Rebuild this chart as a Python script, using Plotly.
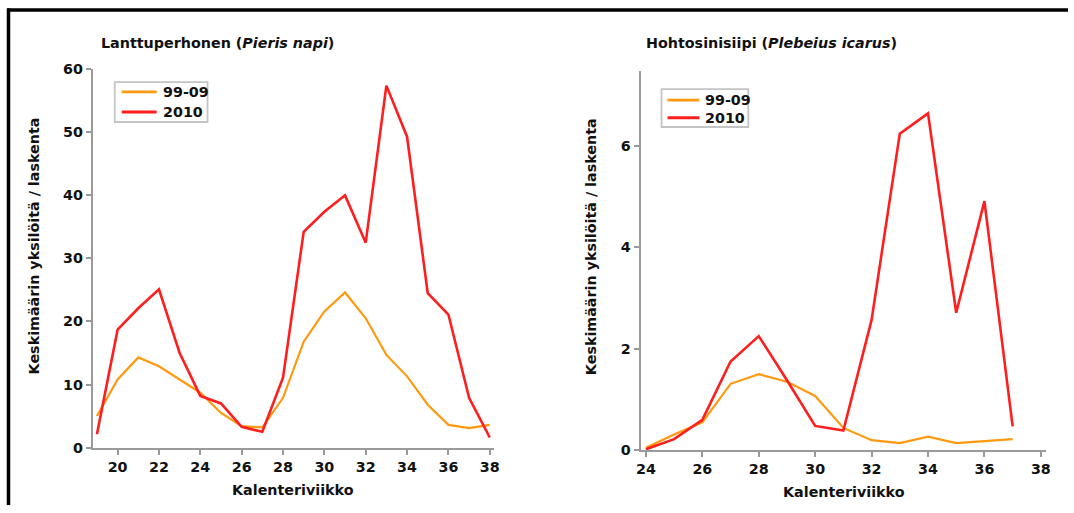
import plotly.graph_objects as go

# ---- data ----
weeks_left = list(range(19, 39))
napi_9909 = [5.0, 10.8, 14.3, 12.9, 10.8, 8.7, 5.5, 3.4, 3.2, 7.9,
             16.8, 21.6, 24.6, 20.5, 14.7, 11.3, 6.8, 3.6, 3.1, 3.6]
napi_2010 = [2.1, 18.7, 22.1, 25.1, 15.0, 8.2, 7.0, 3.3, 2.5, 11.1,
             34.2, 37.4, 40.0, 32.5, 57.4, 49.3, 24.5, 21.1, 7.9, 1.6]

weeks_right = list(range(24, 38))
icarus_9909 = [0.05, 0.31, 0.55, 1.31, 1.50, 1.35, 1.07, 0.44, 0.20, 0.14,
               0.27, 0.14, 0.18, 0.22]
icarus_2010 = [0.02, 0.22, 0.60, 1.75, 2.25, 1.38, 0.48, 0.39, 2.57, 6.24,
               6.64, 2.71, 4.91, 0.47]

series_names = ["99-09", "2010"]
left_ticks_x = [20, 22, 24, 26, 28, 30, 32, 34, 36, 38]
left_ticks_y = [0, 10, 20, 30, 40, 50, 60]
right_ticks_x = [24, 26, 28, 30, 32, 34, 36, 38]
right_ticks_y = [0, 2, 4, 6]

title_left = "<b>Lanttuperhonen (<i>Pieris napi</i>)</b>"
title_right = "<b>Hohtosinisiipi (<i>Plebeius icarus</i>)</b>"
y_title = "<b>Keskimäärin yksilöitä / laskenta</b>"
x_title = "<b>Kalenteriviikko</b>"

ORANGE = "#FF9A10"
RED = "#FF1E1E"
COLORS = [ORANGE, RED]
WIDTHS = [2.2, 2.6]
FONT = "DejaVu Sans"
FS = 14.3
W, H = 1074, 513

# compensation for the page-to-picture mapping
AX, BX = 0.992, 3.0
AY, BY = 0.973, 6.5


def sx(t):
    return (t - BX) / AX / W


def sy(t):
    return 1 - (t - BY) / AY / H


fig = go.Figure()
fig.add_trace(go.Scatter(x=weeks_left, y=napi_9909, name=series_names[0], mode="lines",
                         line=dict(color=COLORS[0], width=WIDTHS[0]), xaxis="x", yaxis="y"))
fig.add_trace(go.Scatter(x=weeks_left, y=napi_2010, name=series_names[1], mode="lines",
                         line=dict(color=COLORS[1], width=WIDTHS[1]), xaxis="x", yaxis="y"))
fig.add_trace(go.Scatter(x=weeks_right, y=icarus_9909, name=series_names[0], mode="lines",
                         line=dict(color=COLORS[0], width=WIDTHS[0]), xaxis="x2", yaxis="y2"))
fig.add_trace(go.Scatter(x=weeks_right, y=icarus_2010, name=series_names[1], mode="lines",
                         line=dict(color=COLORS[1], width=WIDTHS[1]), xaxis="x2", yaxis="y2"))

axis_common = dict(showline=True, linecolor="#9a9a9a", linewidth=2, ticks="outside",
                   tickcolor="#9a9a9a", tickwidth=1.5, ticklen=5, showgrid=False, zeroline=False,
                   tickfont=dict(family=FONT, size=FS, color="#111111", weight="bold"))

fig.update_layout(
    width=W, height=H,
    margin=dict(l=0, r=0, t=0, b=0),
    paper_bgcolor="white", plot_bgcolor="white",
    showlegend=False,
    xaxis=dict(domain=[sx(91), sx(493)], range=[18.8, 38.2], tickvals=left_ticks_x,
               anchor="y", **axis_common),
    yaxis=dict(domain=[sy(448), sy(68)], range=[0, 60], tickvals=left_ticks_y,
               anchor="x", **axis_common),
    xaxis2=dict(domain=[sx(640), sx(1046)], range=[23.81, 38.17], tickvals=right_ticks_x,
                anchor="y2", **axis_common),
    yaxis2=dict(domain=[sy(450.7), sy(70)], range=[0, 7.47], tickvals=right_ticks_y,
                anchor="x2", **axis_common),
)

ann_font = dict(family=FONT, size=FS, color="#111111")
annotations = [
    dict(text=title_left, x=sx(97), y=sy(42), xanchor="left", yanchor="middle"),
    dict(text=title_right, x=sx(643), y=sy(42), xanchor="left", yanchor="middle"),
    dict(text=y_title, x=sx(33), y=sy(245), xanchor="center", yanchor="middle", textangle=-90),
    dict(text=y_title, x=sx(591), y=sy(246), xanchor="center", yanchor="middle", textangle=-90),
    dict(text=x_title, x=sx(292), y=sy(491), xanchor="center", yanchor="middle"),
    dict(text=x_title, x=sx(844), y=sy(493), xanchor="center", yanchor="middle"),
]
for a in annotations:
    fig.add_annotation(xref="paper", yref="paper", showarrow=False, font=ann_font, **a)

# legends (box, line samples, labels) for both panels
legend_boxes = [
    dict(box=(113, 81, 206, 121), line_x=(120, 155), rows=(90.7, 111), text_x=159),
    dict(box=(661, 88, 748, 126), line_x=(667, 699), rows=(99, 116.7), text_x=703),
]
for lg in legend_boxes:
    x0, y0, x1, y1 = lg["box"]
    fig.add_shape(type="rect", xref="paper", yref="paper", x0=sx(x0), x1=sx(x1), y0=sy(y1), y1=sy(y0),
                  line=dict(color="#c4c4c4", width=1.8), fillcolor="white", layer="above")
    for i, name in enumerate(series_names):
        yy = lg["rows"][i]
        fig.add_shape(type="line", xref="paper", yref="paper", x0=sx(lg["line_x"][0]), x1=sx(lg["line_x"][1]),
                      y0=sy(yy), y1=sy(yy), line=dict(color=COLORS[i], width=WIDTHS[i] + 0.4), layer="above")
        fig.add_annotation(xref="paper", yref="paper", showarrow=False, font=ann_font,
                           text=f"<b>{name}</b>", x=sx(lg["text_x"]), y=sy(yy),
                           xanchor="left", yanchor="middle")

# frame lines (top and left)
fig.add_shape(type="line", xref="paper", yref="paper", x0=sx(5), x1=1, y0=sy(8.5), y1=sy(8.5),
              line=dict(color="black", width=3.5))
fig.add_shape(type="line", xref="paper", yref="paper", x0=sx(6.5), x1=sx(6.5), y0=sy(7), y1=0,
              line=dict(color="black", width=3.5))

fig.write_html("out.html", config={"displayModeBar": False},
               post_script="document.body.style.margin='0';document.body.style.overflow='hidden';")
